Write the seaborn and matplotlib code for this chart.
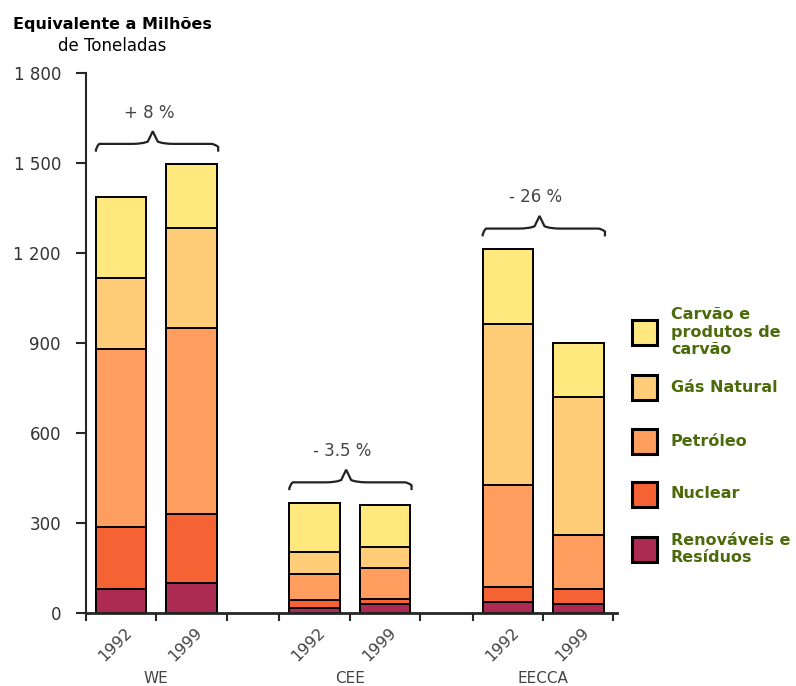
import numpy as np
import pandas as pd
import matplotlib
matplotlib.use("Agg")
import matplotlib.pyplot as plt
from matplotlib.patches import Rectangle
from matplotlib.path import Path
from matplotlib.patches import PathPatch
import seaborn as sns

# data (million tonnes oil equivalent)
regions = ["WE", "CEE", "EECCA"]
years = ["1992", "1999"]
changes = ["+ 8 %", "- 3.5 %", "- 26 %"]

renovaveis = [82, 102, 18, 31, 38, 31]
nuclear = [204, 229, 25, 18, 51, 51]
petroleo = [594, 620, 88, 102, 339, 180]
gas_natural = [237, 333, 73, 71, 535, 458]
carvao = [270, 211, 164, 138, 250, 180]

categories = ["Carvão e\nprodutos de\ncarvão", "Gás Natural", "Petróleo",
              "Nuclear", "Renováveis e\nResíduos"]
colors = ["#FFE97F", "#FFCC77", "#FF9E5E", "#F56234", "#AD2B52"]

# bar positions: two years per region, gap between regions
group_step = 2.75
pos = []
for g in range(len(regions)):
    for k in range(len(years)):
        pos.append(g * group_step + k)
pos = np.array(pos)

df = pd.DataFrame({"pos": pos, "ren": renovaveis, "nuc": nuclear,
                   "pet": petroleo, "gas": gas_natural, "coal": carvao})
df["c_ren"] = df["ren"]
df["c_nuc"] = df["c_ren"] + df["nuc"]
df["c_pet"] = df["c_nuc"] + df["pet"]
df["c_gas"] = df["c_pet"] + df["gas"]
df["c_coal"] = df["c_gas"] + df["coal"]

sns.set_style("ticks")
plt.rcParams["font.family"] = ["DejaVu Sans"]

fig = plt.figure(figsize=(7.96, 6.86), dpi=100)
ax = fig.add_axes([0.108, 0.106, 0.667, 0.788])

# stacked bars drawn as overlapping cumulative bars, tallest first
layers = ["c_coal", "c_gas", "c_pet", "c_nuc", "c_ren"]
for col, colr in zip(layers, colors):
    sns.barplot(data=df, x="pos", y=col, native_scale=True, orient="x",
                color=colr, width=0.72, edgecolor="black", linewidth=1.4,
                errorbar=None, saturation=1, ax=ax)

ax.set_ylim(0, 1800)
ax.set_xlim(-0.5, 7.05)
ax.set_yticks(np.arange(0, 1801, 300))
ax.set_yticklabels([f"{v:,}".replace(",", " ") for v in range(0, 1801, 300)],
                   fontsize=12, color="#333333")
xt = []
for g in range(len(regions)):
    x0 = g * group_step
    xt += [x0 - 0.5, x0 + 0.5, x0 + 1.5]
ax.set_xticks(xt)
ax.set_xticklabels([])
ax.set_xlabel("")
ax.set_ylabel("")
ax.tick_params(axis="y", length=7, width=1.5, pad=11)
ax.tick_params(axis="x", length=6, width=1.5)
sns.despine(ax=ax)
ax.spines["left"].set_linewidth(1.5)
ax.spines["bottom"].set_linewidth(2)
ax.spines["left"].set_bounds(0, 1800)

# year and region labels
trans = ax.get_xaxis_transform()
for i, p in enumerate(pos):
    ax.text(p - 0.08, -0.058, years[i % 2], transform=trans, rotation=45,
            ha="center", va="center", fontsize=11.5, color="#444444")
for g, reg in enumerate(regions):
    ax.text(g * group_step + 0.5, -0.12, reg, transform=trans,
            ha="center", va="center", fontsize=11, color="#444444")

# curly braces with change labels
totals = df["c_coal"].values
for g, lab in enumerate(changes):
    x0 = g * group_step - 0.36
    x1 = g * group_step + 1 + 0.38
    xm = g * group_step + 0.45
    top = max(totals[2 * g], totals[2 * g + 1])
    base = top + 42
    flat = base + 26
    peak = base + 68
    verts = [(x0, base), (x0, flat - 10), (x0 + 0.05, flat), (x0 + 0.1, flat),
             (xm - 0.3, flat), (xm - 0.14, flat), (xm - 0.07, flat + 8),
             (xm, peak), (xm + 0.07, flat + 8), (xm + 0.14, flat),
             (xm + 0.3, flat), (x1 - 0.1, flat), (x1 - 0.05, flat),
             (x1, flat - 10), (x1, base)]
    codes = [Path.MOVETO, Path.CURVE3, Path.CURVE3, Path.LINETO,
             Path.LINETO, Path.CURVE3, Path.CURVE3, Path.LINETO,
             Path.LINETO, Path.CURVE3, Path.CURVE3, Path.LINETO,
             Path.CURVE3, Path.CURVE3, Path.LINETO]
    ax.add_patch(PathPatch(Path(verts, codes), fill=False, lw=1.6,
                           edgecolor="#222222", clip_on=False))
    ax.text(xm - 0.05, peak + 62, lab, ha="center", va="center",
            fontsize=12, color="#444444")

# title
fig.text(112 / 796, 1 - 25 / 686, "Equivalente a Milhões", ha="center",
         va="center", fontsize=11.5, fontweight="bold", color="black")
fig.text(112 / 796, 1 - 46 / 686, "de Toneladas", ha="center",
         va="center", fontsize=12, fontweight="medium", color="black")

# legend
leg_y = [332, 387, 441, 494, 549]
for name, colr, yy in zip(categories, colors, leg_y):
    fig.add_artist(Rectangle((632 / 796, 1 - (yy + 12.5) / 686), 25 / 796,
                             25 / 686, transform=fig.transFigure,
                             facecolor=colr, edgecolor="black", lw=2.2))
    fig.text(671 / 796, 1 - yy / 686, name, ha="left", va="center",
             fontsize=11.5, fontweight="bold", color="#4B6A0A",
             linespacing=1.2)

fig.savefig("out.png", dpi=100)
